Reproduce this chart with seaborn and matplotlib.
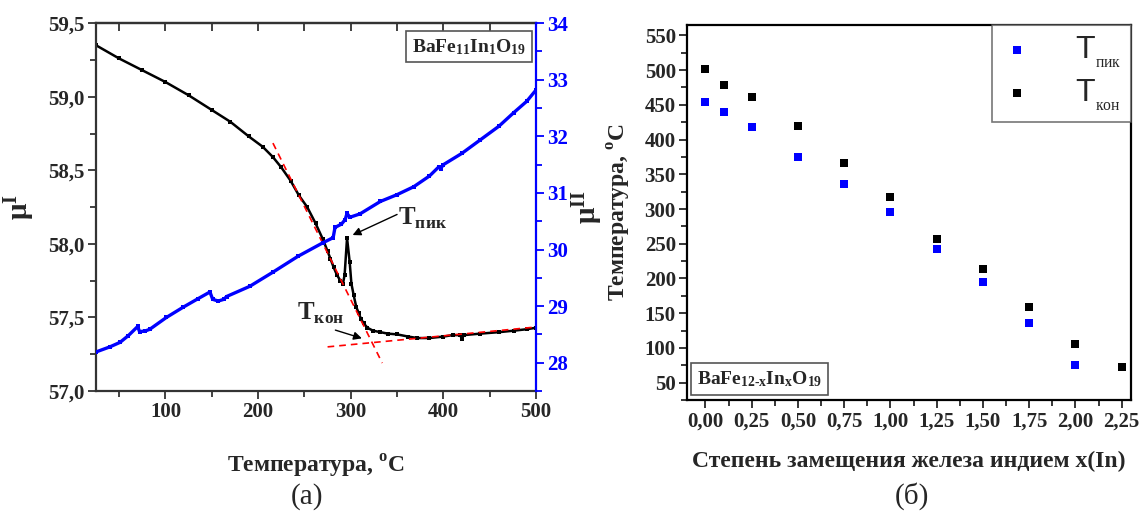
import matplotlib
matplotlib.use('Agg')
import pandas as pd
import matplotlib.pyplot as plt
import seaborn as sns
from matplotlib.ticker import MultipleLocator, FuncFormatter

# --- data (a): mu' and mu'' vs temperature for BaFe11In1O19
temp_mu1 = [25, 50, 75, 100, 125, 150, 170, 190, 205, 216, 225, 235, 244, 253, 262,
            270, 275, 278, 281.6, 285, 288.8, 291.6, 293.4, 296, 298.8, 300.7, 303.2,
            306, 308.6, 311, 314, 318, 324, 332, 340, 350, 362, 372, 385, 400, 410,
            418, 420, 422, 440, 460, 476, 490, 500]
mu1 = [59.35, 59.26, 59.18, 59.10, 59.01, 58.91, 58.83, 58.73, 58.66, 58.59, 58.52,
       58.43, 58.33, 58.25, 58.14, 58.03, 57.95, 57.90, 57.84, 57.79, 57.75, 57.73,
       57.79, 58.04, 57.88, 57.73, 57.65, 57.57, 57.53, 57.49, 57.46, 57.43, 57.41,
       57.40, 57.39, 57.385, 57.37, 57.36, 57.36, 57.37, 57.38, 57.38, 57.355, 57.38,
       57.39, 57.40, 57.41, 57.42, 57.43]

temp_mu2 = [25, 40, 51, 60, 70, 72, 78, 83, 101, 119, 135, 148, 151, 157, 163, 166,
            191, 216, 243, 270, 281, 283, 290, 294, 296, 299, 310, 332, 350, 368, 385,
            395, 397, 400, 420, 440, 460, 476, 490, 500]
mu2 = [28.19, 28.28, 28.36, 28.48, 28.64, 28.55, 28.56, 28.59, 28.80, 28.98, 29.13,
       29.25, 29.12, 29.09, 29.12, 29.17, 29.35, 29.60, 29.88, 30.12, 30.21, 30.39,
       30.45, 30.53, 30.64, 30.57, 30.63, 30.85, 30.97, 31.11, 31.30, 31.46, 31.43,
       31.50, 31.70, 31.94, 32.18, 32.42, 32.62, 32.82]

# tangent lines used to find T_kon
fit1_temp = [216, 334]
fit1_mu = [58.685, 57.19]
fit2_temp = [275, 500]
fit2_mu = [57.30, 57.435]

# --- data (б): peak / end temperatures vs indium content
x_in = [0.0, 0.1, 0.25, 0.5, 0.75, 1.0, 1.25, 1.5, 1.75, 2.0, 2.25]
t_pik = [454, 439, 418, 375, 336, 295, 242, 195, 136, 76, None]
t_kon = [501, 478, 461, 419, 366, 317, 257, 214, 159, 106, 73]

sns.set_style('ticks')
plt.rcParams['font.family'] = ['Liberation Serif', 'DejaVu Serif']
plt.rcParams['font.weight'] = 'bold'
plt.rcParams['mathtext.fontset'] = 'custom'
plt.rcParams['mathtext.rm'] = 'Liberation Serif:normal'
plt.rcParams['mathtext.bf'] = 'Liberation Serif:bold'
plt.rcParams['mathtext.sf'] = 'Liberation Sans:normal'

comma1 = FuncFormatter(lambda v, p: f'{v:.1f}'.replace('.', ','))
comma2 = FuncFormatter(lambda v, p: f'{v:.2f}'.replace('.', ','))
intfmt = FuncFormatter(lambda v, p: f'{v:.0f}')

fig = plt.figure(figsize=(11.4, 5.13), dpi=100)

# ---------------- panel (a)
spine_col = '#333333'
ax1 = fig.add_axes([0.0842, 0.2378, 0.386, 0.717])
df1 = pd.DataFrame({'T': temp_mu1, 'mu': mu1})
sns.lineplot(data=df1, x='T', y='mu', ax=ax1, color='black', lw=1.8,
             marker='s', markersize=3.5, markeredgewidth=0)
ax1.plot(fit1_temp, fit1_mu, color='red', ls=(0, (4, 3)), lw=1.2)
ax1.plot(fit2_temp, fit2_mu, color='red', ls=(0, (4, 3)), lw=1.2)
ax1.set_xlim(25, 500)
ax1.set_ylim(57.0, 59.5)
ax1.xaxis.set_major_locator(MultipleLocator(100))
ax1.xaxis.set_minor_locator(MultipleLocator(50))
ax1.yaxis.set_major_locator(MultipleLocator(0.5))
ax1.yaxis.set_minor_locator(MultipleLocator(0.25))
ax1.yaxis.set_major_formatter(comma1)
ax1.xaxis.set_major_formatter(intfmt)
ax1.tick_params(which='major', length=6, width=1.3, color=spine_col, labelsize=15, pad=2)
ax1.tick_params(which='minor', length=4, width=1.3, color=spine_col)
for s in ['left', 'bottom', 'top']:
    ax1.spines[s].set_color(spine_col)
    ax1.spines[s].set_linewidth(1.6)
ax1.spines['right'].set_visible(False)
sec = ax1.secondary_xaxis('top')
sec.xaxis.set_major_locator(MultipleLocator(50))
sec.tick_params(direction='in', length=6, width=1.3, color=spine_col, labeltop=False)
sec.spines['top'].set_color(spine_col)
sec.spines['top'].set_linewidth(1.6)
ax1.set_xlabel('Температура, $^{\\mathbf{o}}$C', fontsize=17, fontweight='bold', labelpad=22)
ax1.set_ylabel('$\\mathbf{\\mu^{I}}$', fontsize=21, labelpad=8)

ax2 = ax1.twinx()
df2 = pd.DataFrame({'T': temp_mu2, 'mu': mu2})
sns.lineplot(data=df2, x='T', y='mu', ax=ax2, color='#0000ff', lw=2.4,
             marker='s', markersize=3, markeredgewidth=0)
ax2.set_ylim(27.5, 34)
ax2.yaxis.set_major_locator(MultipleLocator(1))
ax2.yaxis.set_minor_locator(MultipleLocator(0.5))
ax2.yaxis.set_major_formatter(intfmt)
ax2.tick_params(which='major', length=6, width=1.3, color='#0000ff',
                labelcolor='#0000ff', labelsize=15, pad=2)
ax2.tick_params(which='minor', length=4, width=1.3, color='#0000ff')
for s in ['left', 'bottom', 'top']:
    ax2.spines[s].set_visible(False)
ax2.spines['right'].set_color('#0000ff')
ax2.spines['right'].set_linewidth(1.6)
ax2.set_xlabel('')
ax2.set_ylabel('$\\mathbf{\\mu^{II}}$', fontsize=21, labelpad=2)

ax1.text(0.848, 0.936, '$\\mathbf{BaFe_{11}In_{1}O_{19}}$', transform=ax1.transAxes,
         ha='center', va='center', fontsize=14,
         bbox=dict(boxstyle='square,pad=0.3', fc='white', ec='#555555', lw=1.2), zorder=5)

arrow = dict(arrowstyle='-|>', color='black', lw=1, mutation_scale=12, shrinkA=0, shrinkB=0)
ax1.annotate('', xy=(302, 58.06), xytext=(350, 58.20), arrowprops=arrow)
ax1.text(350.5, 58.17, '$\\mathbf{T}_{\\mathbf{пик}}$', fontsize=18, ha='left', va='center')
ax1.annotate('', xy=(312, 57.358), xytext=(283.4, 57.414), arrowprops=arrow)
ax1.text(242, 57.53, '$\\mathbf{T}_{\\mathbf{кон}}$', fontsize=18, ha='left', va='center')

# ---------------- panel (б)
ax3 = fig.add_axes([0.6026, 0.2203, 0.3895, 0.731])
df3 = pd.DataFrame({'x': x_in, 'pik': t_pik, 'kon': t_kon})
sns.scatterplot(data=df3, x='x', y='pik', ax=ax3, color='#0000ff', marker='s',
                s=36, linewidth=0, label='$\\mathsf{T}_{{}_{\\mathrm{пик}}}$')
sns.scatterplot(data=df3, x='x', y='kon', ax=ax3, color='black', marker='s',
                s=28, linewidth=0, label='$\\mathsf{T}_{{}_{\\mathrm{кон}}}$')
ax3.set_xlim(-0.1, 2.3)
ax3.set_ylim(25, 565)
ax3.xaxis.set_major_locator(MultipleLocator(0.25))
ax3.xaxis.set_minor_locator(MultipleLocator(0.125))
ax3.yaxis.set_major_locator(MultipleLocator(50))
ax3.yaxis.set_minor_locator(MultipleLocator(25))
ax3.xaxis.set_major_formatter(comma2)
ax3.yaxis.set_major_formatter(intfmt)
ax3.tick_params(which='major', length=6, width=1.3, labelsize=15, pad=2)
ax3.tick_params(which='minor', length=4, width=1.3)
for s in ax3.spines.values():
    s.set_color('black')
    s.set_linewidth(1.6)
ax3.set_xlabel('Степень замещения железа индием x(In)', fontsize=17,
               fontweight='bold', labelpad=14)
ax3.set_ylabel('Температура, $^{\\mathbf{o}}$C', fontsize=17, fontweight='bold', labelpad=8)
leg = ax3.legend(loc='upper right', borderaxespad=0, fancybox=False, fontsize=23,
                 handletextpad=1.3, handlelength=1.0, labelspacing=0.25, borderpad=0.3)
leg.get_frame().set_edgecolor('#555555')
leg.get_frame().set_linewidth(1.2)
ax3.text(0.164, 0.056, '$\\mathbf{BaFe_{12\\text{-}x}In_{x}O_{19}}$', transform=ax3.transAxes,
         ha='center', va='center', fontsize=14,
         bbox=dict(boxstyle='square,pad=0.3', fc='white', ec='#555555', lw=1.2))

fig.text(0.269, 0.033, '(а)', ha='center', va='center', fontsize=21, fontweight='normal')
fig.text(0.800, 0.033, '(б)', ha='center', va='center', fontsize=21, fontweight='normal')

fig.savefig('out.png', dpi=100)
